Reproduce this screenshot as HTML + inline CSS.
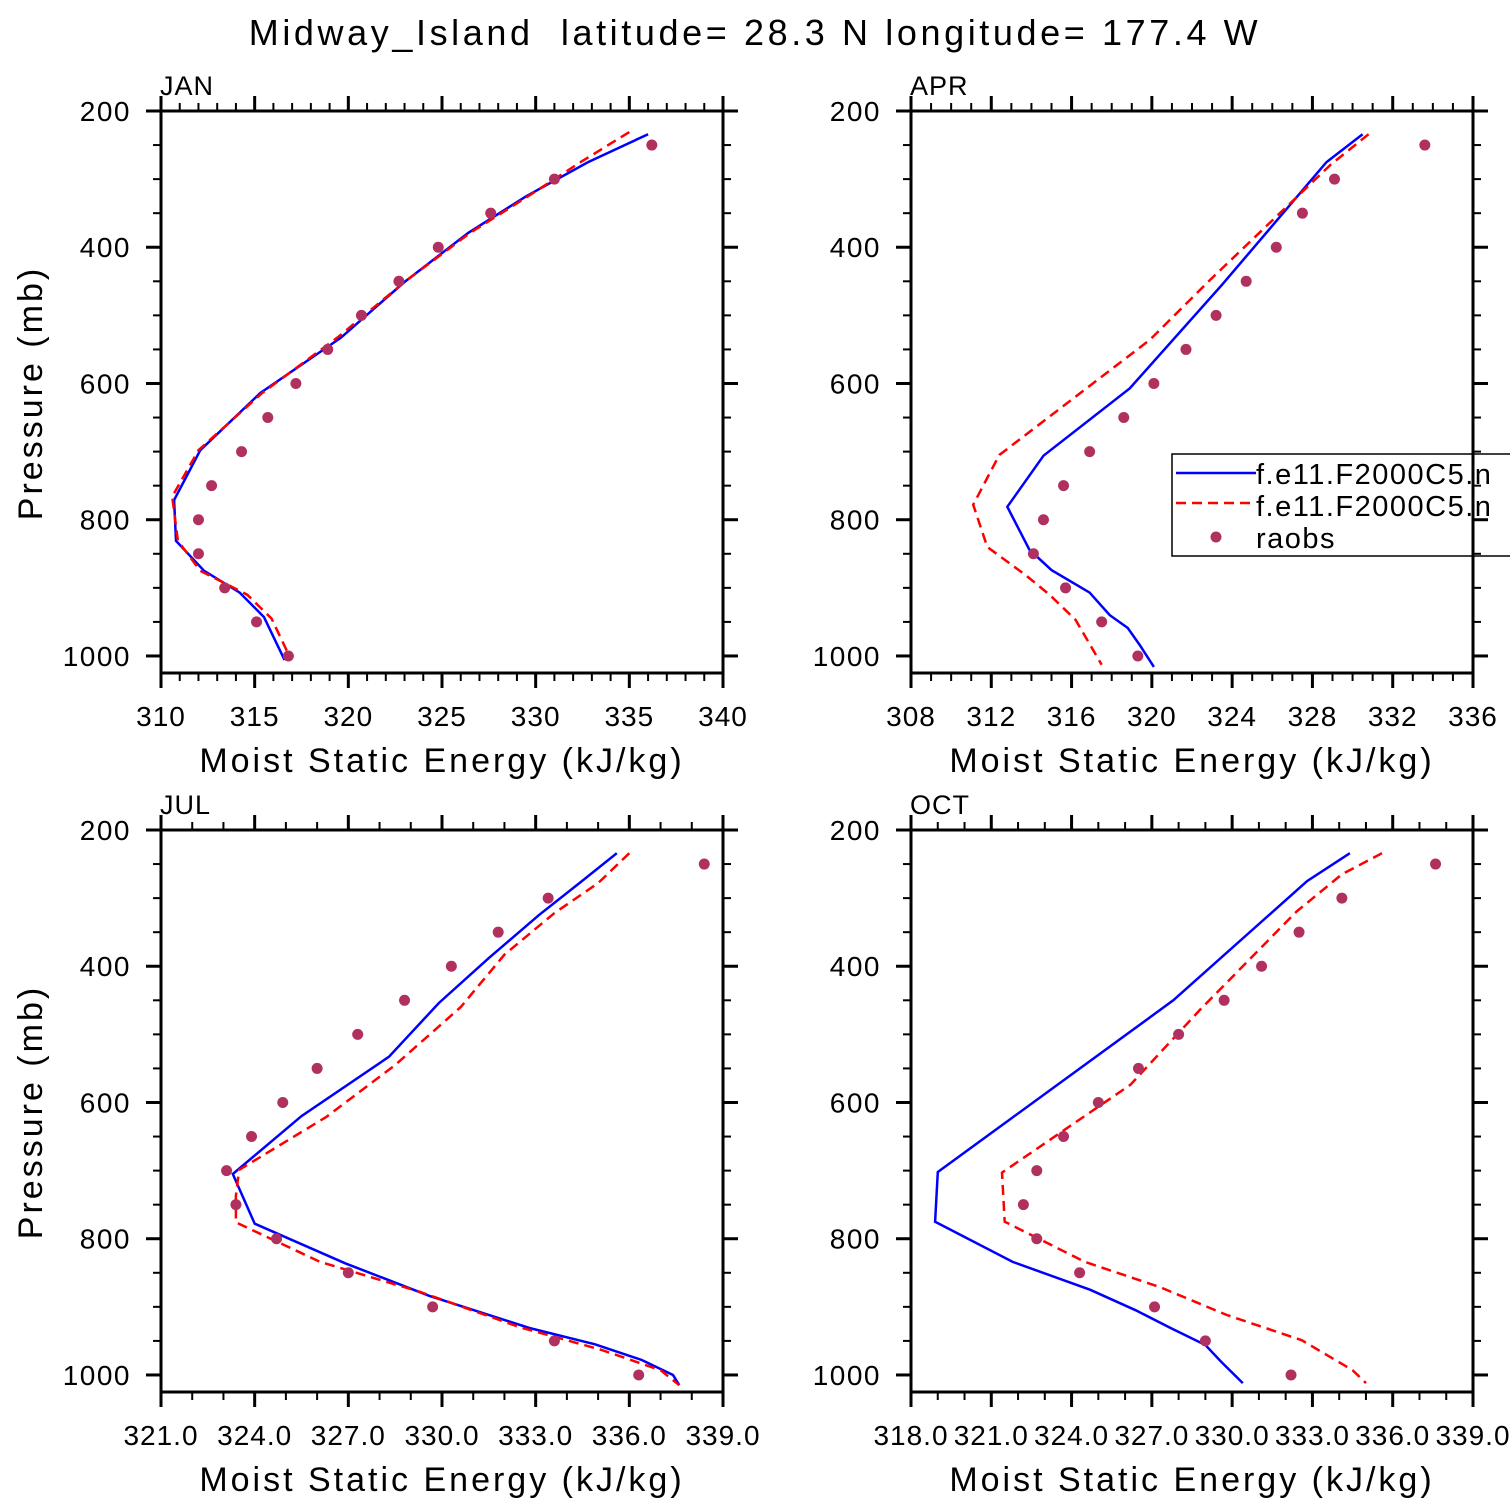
<!DOCTYPE html>
<html><head><meta charset="utf-8"><style>
body{margin:0;background:#fff}
svg{display:block;font-family:"Liberation Sans",sans-serif}
</style></head><body>
<svg id="chart" width="1510" height="1510" viewBox="0 0 1510 1510">
<text x="755" y="45" font-size="36" text-anchor="middle" fill="#000" style="letter-spacing:3.6px;white-space:pre">Midway_Island  latitude= 28.3 N longitude= 177.4 W</text>
</svg>
<script>
// Shared pressure levels for observations
const obsP = [250,300,350,400,450,500,550,600,650,700,750,800,850,900,950,1000];
// JAN
const janBlueP = [234,275,325,379,451,533,614,698,771,831,875,907,943,1006];
const janBlueV = [336.0,332.8,329.5,326.4,323.0,319.6,315.3,312.1,310.7,310.8,312.3,314.2,315.5,316.6];
const janRedP = [231,275,325,379,451,533,614,698,766,831,875,910,945,1003];
const janRedV = [335.0,332.4,329.6,326.5,323.0,319.4,315.4,312.0,310.6,310.9,312.1,314.6,315.9,316.9];
const janObs = [336.2,331.0,327.6,324.8,322.7,320.7,318.9,317.2,315.7,314.3,312.7,312.0,312.0,313.4,315.1,316.8];
// APR
const aprBlueP = [234,275,455,607,706,781,844,874,907,940,959,984,1016];
const aprBlueV = [330.5,328.7,323.5,318.9,314.6,312.8,313.9,315.0,316.9,317.9,318.8,319.4,320.1];
const aprRedP = [234,279,448,536,705,778,840,881,910,947,1013];
const aprRedV = [330.8,328.9,322.9,319.9,312.4,311.1,311.8,313.7,314.9,316.2,317.5];
const aprObs = [333.6,329.1,327.5,326.2,324.7,323.2,321.7,320.1,318.6,316.9,315.6,314.6,314.1,315.7,317.5,319.3];
// JUL
const julBlueP = [234,278,325,388,454,533,620,705,778,836,884,931,955,978,1000,1015];
const julBlueV = [335.6,334.4,333.1,331.5,329.9,328.3,325.5,323.3,324.0,326.9,329.6,332.8,334.9,336.4,337.4,337.6];
const julRedP = [234,278,322,383,460,545,621,699,737,776,834,878,930,963,993,1015];
const julRedV = [336.0,335.0,333.6,332.0,330.6,328.5,326.3,323.5,323.4,323.4,326.1,329.3,332.5,335.1,337.0,337.6];
const julObs = [338.4,333.4,331.8,330.3,328.8,327.3,326.0,324.9,323.9,323.1,323.4,324.7,327.0,329.7,333.6,336.3];
// OCT
const octBlueP = [234,275,450,702,775,834,875,905,931,956,981,1012];
const octBlueV = [334.4,332.8,327.8,319.0,318.9,321.8,324.7,326.4,327.7,329.0,329.6,330.4];
const octRedP = [234,265,320,464,574,703,775,834,871,912,949,993,1012];
const octRedV = [335.6,334.1,332.4,328.8,326.2,321.4,321.5,324.5,327.3,329.8,332.6,334.5,335.0];
const octObs = [337.6,334.1,332.5,331.1,329.7,328.0,326.5,325.0,323.7,322.7,322.2,322.7,324.3,327.1,329.0,332.2];
// Axis ticks
const yTicks = [200,400,600,800,1000];
const janXTicks = ["310","315","320","325","330","335","340"];
const aprXTicks = ["308","312","316","320","324","328","332","336"];
const julXTicks = ["321.0","324.0","327.0","330.0","333.0","336.0","339.0"];
const octXTicks = ["318.0","321.0","324.0","327.0","330.0","333.0","336.0","339.0"];

const NS="http://www.w3.org/2000/svg";
const svg=document.getElementById('chart');
function mk(tag,attrs,parent){const e=document.createElementNS(NS,tag);for(const k in attrs)e.setAttribute(k,attrs[k]);(parent||svg).appendChild(e);return e;}

function panel(o){
  const g=mk('g',{});
  
  
  const W=562,H=562,x0=o.x,y0=o.y;
  const xmin=o.xmin,xmax=o.xmax;
  const X=v=>x0+(v-xmin)/(xmax-xmin)*W;
  const Y=p=>y0+(p-200)/825*H;
  const clipId='clip-'+o.name;
  const cp=mk('clipPath',{id:clipId},g);mk('rect',{x:x0,y:y0,width:W,height:H},cp);
  const pts=(P,V)=>P.map((p,i)=>X(V[i]).toFixed(1)+','+Y(p).toFixed(1)).join(' ');
  const blue=mk('polyline',{points:pts(o.bP,o.bV),fill:'none',stroke:'#0000ff','stroke-width':2.5,'clip-path':'url(#'+clipId+')'},g);
  
  
  const red=mk('polyline',{points:pts(o.rP,o.rV),fill:'none',stroke:'#ff0000','stroke-width':2.5,'stroke-dasharray':'10,6','clip-path':'url(#'+clipId+')'},g);
  
  
  obsP.forEach((p,i)=>{
    const c=mk('circle',{cx:X(o.obs[i]),cy:Y(p),r:5.5,fill:'#b03060'},g);
    
    
  });
  if(o.legend){
    const lg=mk('g',{},g);
    
    
    mk('rect',{x:1172,y:454,width:360,height:102,fill:'#fff',stroke:'#000','stroke-width':1.5},lg);
    mk('line',{x1:1176,y1:473,x2:1256,y2:473,stroke:'#0000ff','stroke-width':2.5},lg);
    mk('line',{x1:1176,y1:503,x2:1256,y2:503,stroke:'#ff0000','stroke-width':2.5,'stroke-dasharray':'10,6'},lg);
    mk('circle',{cx:1216,cy:537,r:5.5,fill:'#b03060'},lg);
    ['f.e11.F2000C5.n','f.e11.F2000C5.n','raobs'].forEach((t,i)=>{
      const tx=mk('text',{x:1256,y:484+i*32,'font-size':29,fill:'#000',style:'letter-spacing:1.5px'},lg);tx.textContent=t;
      
      
    });
  }
  mk('rect',{x:x0,y:y0,width:W,height:H,fill:'none',stroke:'#000','stroke-width':3},g);
  for(let p=200;p<=1025;p+=50){
    const maj=p%200===0,L=maj?15:8,y=Y(p);
    mk('line',{x1:x0-L,y1:y,x2:x0,y2:y,stroke:'#000','stroke-width':maj?3:2},g);
    mk('line',{x1:x0+W,y1:y,x2:x0+W+L,y2:y,stroke:'#000','stroke-width':maj?3:2},g);
  }
  yTicks.forEach(p=>{
    const t=mk('text',{x:x0-30,y:Y(p)+10,'font-size':28,'text-anchor':'end',fill:'#000',style:'letter-spacing:1.5px'},g);t.textContent=p;
    
    
  });
  const nMaj=o.xt.length-1,step=(xmax-xmin)/nMaj,mn=o.minor;
  for(let i=0;i<=nMaj*mn;i++){
    const v=xmin+i*step/mn,maj=i%mn===0,L=maj?15:8,x=X(v);
    mk('line',{x1:x,y1:y0+H,x2:x,y2:y0+H+L,stroke:'#000','stroke-width':maj?3:2},g);
    mk('line',{x1:x,y1:y0-L,x2:x,y2:y0,stroke:'#000','stroke-width':maj?3:2},g);
  }
  o.xt.forEach((s,i)=>{
    const t=mk('text',{x:X(xmin+i*step),y:y0+H+53,'font-size':28,'text-anchor':'middle',fill:'#000',style:'letter-spacing:1px'},g);t.textContent=s;
    
    
  });
  const xt=mk('text',{x:x0+W/2,y:y0+H+99,'font-size':34,'text-anchor':'middle',fill:'#000',style:'letter-spacing:3px'},g);
  xt.textContent='Moist Static Energy (kJ/kg)';
  
  
  if(o.ytitle){
    const yt=mk('text',{x:0,y:0,'font-size':34,'text-anchor':'middle',fill:'#000',style:'letter-spacing:3px',transform:`translate(${x0-119},${y0+H/2+1}) rotate(-90)`},g);
    yt.textContent='Pressure (mb)';
    
    
  }
  const pt=mk('text',{x:x0-1,y:y0-16,'font-size':27,fill:'#000',style:'letter-spacing:1px'},g);pt.textContent=o.label;
  
  
}
panel({name:'jan',label:'JAN',x:161,y:111,xmin:310,xmax:340,xt:janXTicks,minor:5,bP:janBlueP,bV:janBlueV,rP:janRedP,rV:janRedV,obs:janObs,ytitle:true});
panel({name:'apr',label:'APR',x:911,y:111,xmin:308,xmax:336,xt:aprXTicks,minor:4,bP:aprBlueP,bV:aprBlueV,rP:aprRedP,rV:aprRedV,obs:aprObs,legend:true});
panel({name:'jul',label:'JUL',x:161,y:830,xmin:321,xmax:339,xt:julXTicks,minor:3,bP:julBlueP,bV:julBlueV,rP:julRedP,rV:julRedV,obs:julObs,ytitle:true});
panel({name:'oct',label:'OCT',x:911,y:830,xmin:318,xmax:339,xt:octXTicks,minor:3,bP:octBlueP,bV:octBlueV,rP:octRedP,rV:octRedV,obs:octObs});
</script>
</body></html>
